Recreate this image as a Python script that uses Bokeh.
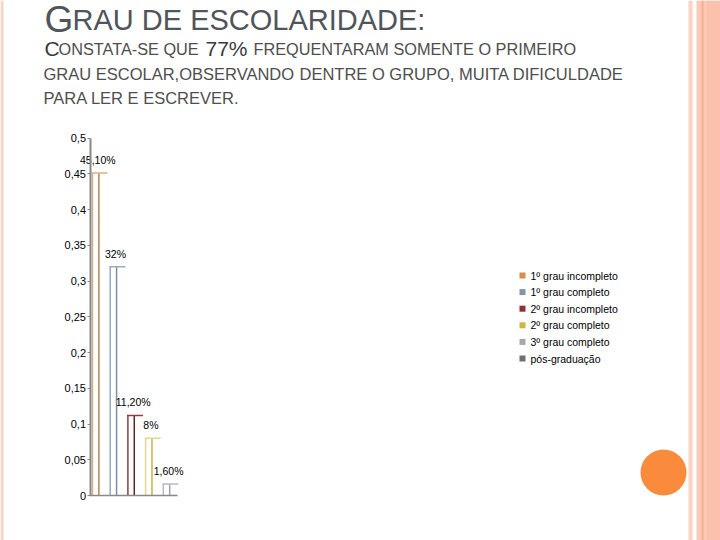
from bokeh.plotting import figure
from bokeh.models import Range1d, LinearAxis, FixedTicker
from bokeh.core.properties import value
from bokeh.embed import file_html
from bokeh.resources import INLINE

# ---------------- data ----------------
categories = ["1º grau incompleto", "1º grau completo", "2º grau incompleto",
              "2º grau completo", "3º grau completo", "pós-graduação"]
values = [0.451, 0.32, 0.112, 0.08, 0.016, 0.0]
value_labels = ["45,10%", "32%", "11,20%", "8%", "1,60%", ""]
y_ticks = [0.0, 0.05, 0.1, 0.15, 0.2, 0.25, 0.3, 0.35, 0.4, 0.45, 0.5]
y_tick_labels = ["0", "0,05", "0,1", "0,15", "0,2", "0,25", "0,3", "0,35", "0,4", "0,45", "0,5"]

legend_colors = ["#dd8a4e", "#8094ab", "#8e3131", "#cdb545", "#a3a7ae", "#6f6f6f"]
bar_colors_a = ["#d8b088", "#9aaabb", "#8a4040", "#e2d890", "#b6bac1", "#7a7a7a"]
bar_colors_b = ["#b9844f", "#7b8ea5", "#5e2626", "#c6b446", "#9ea3aa", "#666666"]

FONT = "Liberation Sans"

# ---------------- geometry (page pixels) ----------------
W, H = 720, 540
OFF = 0
Y_ZERO_PX = 495.0
Y_TOP_PX = 137.5
Y_TOP_VAL = 0.5
PX_PER_Y = (Y_ZERO_PX - Y_TOP_PX) / Y_TOP_VAL
X_FIRST_PX = 92.0
SLOT_PX = 17.7


def xdata(px):
    return (px - X_FIRST_PX) / SLOT_PX


x_start = xdata(OFF)
x_end = xdata(OFF + W)
y_start = -(OFF + H - Y_ZERO_PX) / PX_PER_Y
y_end = (Y_ZERO_PX - OFF) / PX_PER_Y

p = figure(width=W, height=H,
           x_range=Range1d(x_start, x_end), y_range=Range1d(y_start, y_end),
           x_axis_type=None, y_axis_type=None,
           toolbar_location=None, output_backend="svg",
           min_border=0, outline_line_color=None,
           background_fill_color="white", border_fill_color="white")
p.extra_x_ranges = {"px": Range1d(OFF, OFF + W)}
p.extra_y_ranges = {"py": Range1d(OFF + H, OFF)}

# ---------------- decorations ----------------
p.quad(left=[0, 688, 696, 706], right=[3, 692, 720, 720], top=[0, 0, 0, 0],
       bottom=[540, 540, 540, 540],
       fill_color=["#fbd3c3", "#fbd3c3", "#fcc9b6", "#fcc1ab"], line_color=None,
       x_range_name="px", y_range_name="py")
p.quad(left=[701], right=[703], top=[0], bottom=[540], fill_color="#f5ae90", line_color=None,
       x_range_name="px", y_range_name="py")
p.circle(x=[663], y=[472], radius=23, fill_color="#fa8a3c", line_color=None,
         x_range_name="px", y_range_name="py")

# ---------------- texts ----------------
title_col = "#50555b"
body_col = "#4e4e4e"


def txt(x, y, s, size, color, style="normal"):
    p.text(x=[x], y=[y], text=[s], text_font=value(FONT), text_font_size=size,
           text_color=color, text_baseline="alphabetic", text_align="left",
           text_font_style=style, x_range_name="px", y_range_name="py")


txt(44, 19, "G", "37px", title_col)
txt(72, 19, "RAU DE ESCOLARIDADE:", "29px", title_col)
txt(44, 48, "C", "21px", "#3a3a3a")
txt(58, 48, "ONSTATA-SE QUE", "16.3px", body_col)
txt(205, 48, "77%", "21px", "#3a3a3a")
txt(253, 48, "FREQUENTARAM SOMENTE O PRIMEIRO", "16.3px", body_col)
txt(43, 73, "GRAU ESCOLAR,OBSERVANDO", "16.5px", body_col)
txt(299, 73, "DENTRE O GRUPO, MUITA DIFICULDADE", "16.5px", body_col)
txt(43, 97, "PARA LER E ESCREVER.", "16.5px", body_col)

# ---------------- bars ----------------
idx = [i for i, v in enumerate(values) if v > 0]
xs = [float(i) for i in idx]
vs = [values[i] for i in idx]
p.segment(x0=xs, y0=[0] * len(xs), x1=xs, y1=vs,
          line_color=[bar_colors_a[i] for i in idx], line_width=1.5)
p.segment(x0=[x + 0.36 for x in xs], y0=[0] * len(xs), x1=[x + 0.36 for x in xs], y1=vs,
          line_color=[bar_colors_b[i] for i in idx], line_width=1.5)
p.segment(x0=[x - 0.05 for x in xs], y0=vs, x1=[x + 0.85 for x in xs], y1=vs,
          line_color=[bar_colors_a[i] for i in idx], line_width=1.5)
p.text(x=[x + 0.3 for x in xs], y=vs, text=[value_labels[i] for i in idx],
       y_offset=-13, text_align="center", text_baseline="middle",
       text_font=value(FONT), text_font_size="10.5px", text_color="black")

# ---------------- axes ----------------
yaxis = LinearAxis(ticker=FixedTicker(ticks=y_ticks),
                   major_label_overrides=dict(zip(y_ticks, y_tick_labels)),
                   fixed_location=xdata(89.5), bounds=(0, 0.5),
                   axis_line_color="#888888", axis_line_width=2,
                   major_tick_line_color="#888888", major_tick_in=0, major_tick_out=3,
                   minor_tick_out=0, minor_tick_in=0,
                   major_label_standoff=1,
                   major_label_text_font=FONT, major_label_text_font_size="11px",
                   major_label_text_color="black")
p.add_layout(yaxis, "left")
xaxis = LinearAxis(ticker=FixedTicker(ticks=[]), fixed_location=0,
                   bounds=(xdata(89), xdata(177)),
                   axis_line_color="#888888", axis_line_width=1.5,
                   major_tick_out=0, major_tick_in=0, minor_tick_out=0, minor_tick_in=0,
                   major_label_text_font_size="0px")
p.add_layout(xaxis, "below")

# ---------------- legend (manual) ----------------
leg_y = [275 + 16.6 * k for k in range(len(categories))]
p.scatter(x=[522] * len(categories), y=leg_y, marker="square", size=6,
          fill_color=legend_colors, line_color=None,
          x_range_name="px", y_range_name="py")
p.text(x=[530] * len(categories), y=leg_y, text=categories,
       text_font=value(FONT), text_font_size="10.5px", text_color="black",
       text_baseline="middle", text_align="left",
       x_range_name="px", y_range_name="py")

open("out.html", "w").write(file_html(p, INLINE))
